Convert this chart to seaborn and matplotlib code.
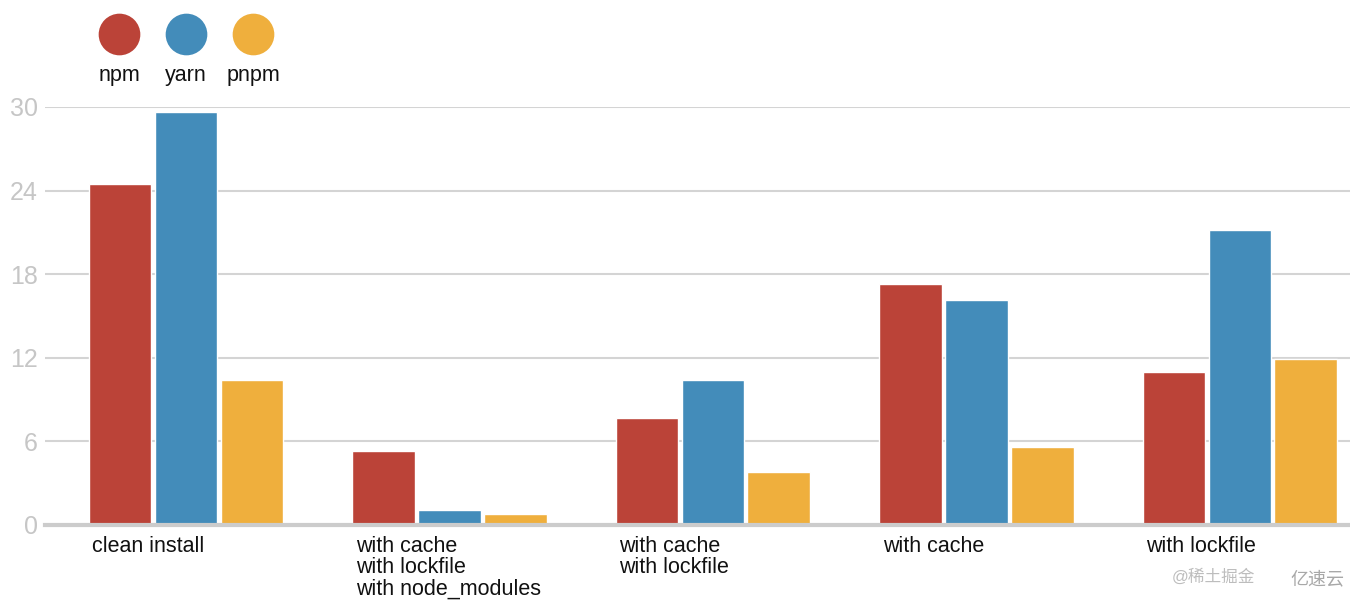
import matplotlib
matplotlib.use("Agg")
import matplotlib.pyplot as plt
import seaborn as sns
import pandas as pd

# install times (seconds)
scenarios = ["clean install",
             "with cache\nwith lockfile\nwith node_modules",
             "with cache\nwith lockfile",
             "with cache",
             "with lockfile"]
managers = ["npm", "yarn", "pnpm"]
npm_times = [24.5, 5.3, 7.7, 17.3, 11.0]
yarn_times = [29.65, 1.1, 10.4, 16.15, 21.2]
pnpm_times = [10.4, 0.8, 3.8, 5.6, 11.9]
y_ticks = [0, 6, 12, 18, 24, 30]

colors = {"npm": "#bb4338", "yarn": "#438cba", "pnpm": "#efaf3d"}

rows = []
for m, vals in zip(managers, [npm_times, yarn_times, pnpm_times]):
    for s, v in zip(scenarios, vals):
        rows.append({"scenario": s, "manager": m, "time": v})
df = pd.DataFrame(rows)

sns.set_style("white")
plt.rcParams["font.family"] = ["Liberation Sans", "Noto Sans CJK SC", "DejaVu Sans"]

fig = plt.figure(figsize=(13.5, 6.04), dpi=100)
ax = fig.add_axes([45 / 1350, 1 - 525 / 604, 1 - 45 / 1350, (525 - 107) / 604])

sns.barplot(data=df, x="scenario", y="time", hue="manager", order=scenarios,
            hue_order=managers, palette=colors, width=0.75, gap=0.05,
            saturation=1, legend=False, ax=ax, zorder=3)

ax.set_xlim(-0.535, 4.418)
ax.set_ylim(0, 30)
ax.set_yticks(y_ticks)
ax.set_yticklabels([str(t) for t in y_ticks], fontsize=18, color="#c6c6c6")
ax.yaxis.grid(True, color="#d4d4d4", linewidth=1.5, zorder=0)
ax.set_axisbelow(True)

# left-aligned category labels under each group
ax.set_xticks([i - 0.355 for i in range(len(scenarios))])
ax.set_xticklabels(scenarios, fontsize=15.5, ha="left", va="top", linespacing=1.02,
                   color="#111111")
ax.tick_params(axis="x", length=0, pad=8)
ax.tick_params(axis="y", length=0, pad=5)
ax.set_xlabel("")
ax.set_ylabel("")

for side in ["top", "right", "left"]:
    ax.spines[side].set_visible(False)
ax.spines["bottom"].set_color("#cccccc")
ax.spines["bottom"].set_linewidth(3)
ax.spines["bottom"].set_zorder(4)

# legend: circles with names underneath
legend_x = [119, 186, 253]
for m, x in zip(managers, legend_x):
    ax.scatter([x / 1350], [1 - 34 / 604], s=900, color=colors[m],
               transform=fig.transFigure, clip_on=False, linewidths=0)
    fig.text(x / 1350, 1 - 76 / 604, m, ha="center", va="center", fontsize=15.5,
             color="#111111")

# watermarks
fig.text(1172 / 1350, 1 - 577 / 604, "@稀土掘金", fontsize=12, color="#bdbdbd",
         va="center", ha="left")
fig.text(1290 / 1350, 1 - 580 / 604, "亿速云", fontsize=13, color="#a8a8a8",
         va="center", ha="left")

fig.savefig("out.png", dpi=100)
